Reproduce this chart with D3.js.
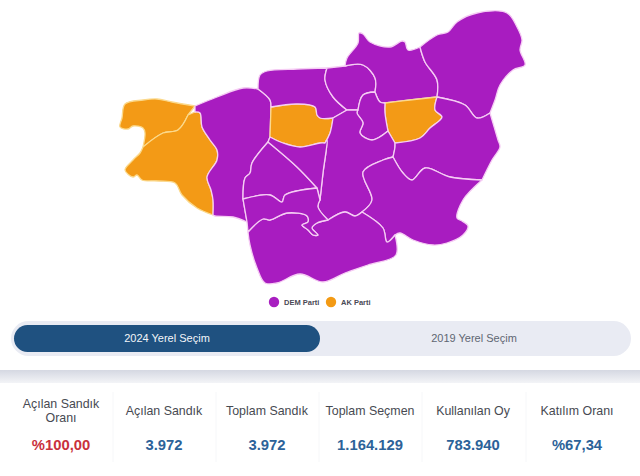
<!DOCTYPE html>
<html>
<head>
<meta charset="utf-8">
<script src="https://cdnjs.cloudflare.com/ajax/libs/d3/7.8.5/d3.min.js"></script>
<style>
body { margin: 0; background: #fff; }
text { font-family: "Liberation Sans", Arial, sans-serif; }
</style>
</head>
<body>
<svg id="chart" width="640" height="476"></svg>
<script>
// district outlines
var nwOrange = [[125,104],[143,100],[157,99],[172,102],[195,106],[188,115],[178,130],[163,133],[143,147],[145,133],[143,128],[133,126],[128,129],[120,127],[122,118]];
var swOrange = [[143,147],[163,133],[178,130],[188,115],[195,112],[200,113],[202,127],[210,140],[217,150],[217,160],[207,177],[211,190],[213,200],[213,215],[197,208],[182,195],[175,183],[158,181],[142,180],[137,175],[133,177],[125,170],[133,160],[140,153]];
var westPurple = [[195,106],[217,97],[243,88],[258,89],[270,100],[271,107],[270,137],[268,142],[252,163],[250,173],[245,178],[243,199],[247,222],[233,217],[215,216],[213,215],[213,200],[211,190],[207,177],[217,160],[217,150],[210,140],[202,127],[200,113],[195,112]];
var midOrange = [[271,107],[297,104],[315,107],[317,115],[320,118],[333,118],[330,133],[325,143],[320,143],[300,147],[283,143],[270,137]];
var northWest = [[258,89],[260,75],[267,71],[297,69],[327,68],[325,80],[333,97],[347,110],[333,118],[320,118],[317,115],[315,107],[297,104],[271,107],[270,100]];
var northMid = [[327,68],[345,66],[363,65],[375,78],[375,92],[363,95],[358,110],[347,110],[333,97],[325,80]];
var northCenter = [[345,66],[347,58],[358,43],[359,33],[363,34],[370,42],[390,47],[402,41],[405,42],[408,50],[420,47],[425,62],[437,80],[437,97],[410,100],[385,103],[380,102],[375,92],[375,78],[363,65]];
var northEast = [[420,47],[437,35],[448,32],[457,22],[477,13],[507,13],[517,27],[522,40],[520,50],[525,65],[513,70],[500,85],[495,100],[490,113],[477,118],[465,105],[437,97],[437,80],[425,62]];
var eastOrange = [[385,103],[410,100],[437,97],[435,110],[442,117],[430,128],[420,138],[395,143],[388,131],[385,113]];
var smallCenter = [[375,92],[380,102],[385,103],[385,113],[388,131],[372,140],[360,133],[363,123],[357,113],[358,110],[363,95]];
var tallCenter = [[347,110],[358,110],[357,113],[363,123],[360,133],[372,140],[388,131],[395,143],[395,147],[393,157],[383,160],[363,172],[372,200],[362,212],[355,216],[345,212],[328,220],[318,207],[320,200],[323,173],[327,140],[325,143],[330,133],[333,118]];
var eastPurple = [[437,97],[465,105],[477,118],[490,113],[498,140],[500,147],[492,160],[482,180],[450,177],[425,168],[412,180],[403,173],[393,157],[395,147],[395,143],[420,138],[430,128],[442,117],[435,110]];
var southEast = [[393,157],[403,173],[412,180],[425,168],[450,177],[482,180],[463,200],[457,218],[462,221],[468,226],[463,235],[447,243],[433,245],[413,240],[400,233],[395,235],[387,242],[383,228],[362,212],[372,200],[363,172],[383,160]];
var south = [[248,232],[263,219],[270,220],[287,213],[307,216],[308,222],[302,225],[308,230],[313,235],[318,235],[312,228],[317,223],[328,220],[345,212],[355,216],[362,212],[383,228],[387,242],[395,235],[396,255],[368,265],[345,273],[323,282],[300,274],[277,283],[265,283],[257,268],[250,245]];
var midWest = [[268,142],[297,167],[317,188],[285,195],[282,202],[270,195],[243,199],[245,178],[250,173],[252,163]];
var midCenter = [[270,137],[283,143],[300,147],[320,143],[325,143],[327,140],[323,173],[320,200],[317,188],[297,167],[268,142]];
var lowWest = [[243,199],[270,195],[282,202],[285,195],[317,188],[320,200],[318,207],[328,220],[317,223],[312,228],[318,235],[313,235],[308,230],[302,225],[308,222],[307,216],[287,213],[270,220],[263,219],[248,232],[247,222]];

var districts = [nwOrange, swOrange, westPurple, midOrange, northWest, northMid, northCenter, northEast, eastOrange, smallCenter, tallCenter, eastPurple, southEast, south, midWest, midCenter, lowWest];
var winners = ["AK","AK","DEM","AK","DEM","DEM","DEM","DEM","AK","DEM","DEM","DEM","DEM","DEM","DEM","DEM","DEM"];

var parties = ["DEM","AK"];
var partyLabels = ["DEM Parti","AK Parti"];
var partyColors = ["#a81fc0","#f39a14"];
var borderColors = ["#f6cdf4","#fbd98c"];

var tabs = ["2024 Yerel Seçim","2019 Yerel Seçim"];
var statLabels = [["Açılan Sandık","Oranı"],["Açılan Sandık"],["Toplam Sandık"],["Toplam Seçmen"],["Kullanılan Oy"],["Katılım Oranı"]];
var statValues = ["%100,00","3.972","3.972","1.164.129","783.940","%67,34"];

var svg = d3.select("#chart");
var fill = d3.scaleOrdinal().domain(parties).range(partyColors);
var border = d3.scaleOrdinal().domain(parties).range(borderColors);
var defs = svg.append("defs");

// the reference is a soft jpeg
defs.append("filter").attr("id", "soft")
    .append("feGaussianBlur").attr("stdDeviation", 0.35);

// which districts use each vertex, so junctions can stay sharp
var owners = {};
districts.forEach(function(ring, r) {
    ring.forEach(function(p) {
        (owners[p] = owners[p] || []).push(r);
    });
});
function isCorner(ring, i) {
    var own = owners[ring[i]];
    if (own.length < 2) return false;
    if (own.length > 2) return true;
    var prev = owners[ring[(i + ring.length - 1) % ring.length]];
    var next = owners[ring[(i + 1) % ring.length]];
    return !own.every(function(o) { return prev.includes(o) && next.includes(o); });
}

// smooth each run of points between two corners on its own
var arc = d3.line().curve(d3.curveCatmullRom.alpha(0.5));
function outline(ring) {
    var start = d3.range(ring.length).find(function(i) { return isCorner(ring, i); }) || 0;
    var d = "", run = [ring[start]];
    for (var k = 1; k <= ring.length; k++) {
        var i = (start + k) % ring.length;
        run.push(ring[i]);
        if (isCorner(ring, i) || k == ring.length) {
            d += d ? arc(run).replace("M", "L") : arc(run);
            run = [ring[i]];
        }
    }
    return d + "Z";
}

svg.append("g")
    .attr("filter", "url(#soft)")
    .selectAll("path")
    .data(districts)
    .enter()
    .append("path")
    .attr("d", outline)
    .attr("fill", function(d, i) { return fill(winners[i]); })
    .attr("stroke", function(d, i) { return border(winners[i]); })
    .attr("stroke-width", 1.3)
    .attr("stroke-linejoin", "round");

// legend
var legendX = d3.scaleOrdinal().domain(parties).range([274, 331]);
var legend = svg.append("g").selectAll("g")
    .data(parties)
    .enter()
    .append("g")
    .attr("transform", function(d) { return "translate(" + legendX(d) + ",302)"; });
legend.append("circle")
    .attr("r", 5.2)
    .attr("fill", function(d) { return fill(d); });
legend.append("text")
    .attr("x", 10)
    .attr("y", 2.6)
    .attr("font-size", 7.5)
    .attr("font-weight", "bold")
    .attr("fill", "#4a4a55")
    .text(function(d, i) { return partyLabels[i]; });

// tab bar
svg.append("rect").attr("x", 11).attr("y", 321).attr("width", 620).attr("height", 35).attr("rx", 17.5).attr("fill", "#e9ebf3");
svg.append("rect").attr("x", 14).attr("y", 325).attr("width", 306).attr("height", 27).attr("rx", 13.5).attr("fill", "#1f5180");
var tabX = d3.scalePoint().domain(tabs).range([167, 474]);
svg.append("g").selectAll("text")
    .data(tabs)
    .enter()
    .append("text")
    .attr("x", function(d) { return tabX(d); })
    .attr("y", 342)
    .attr("text-anchor", "middle")
    .attr("font-size", 11)
    .attr("fill", function(d, i) { return i == 0 ? "#f2f5f9" : "#5f6672"; })
    .text(function(d) { return d; });

// grey band
var grad = defs.append("linearGradient").attr("id", "band").attr("x1", 0).attr("x2", 0).attr("y1", 0).attr("y2", 1);
grad.append("stop").attr("offset", 0).attr("stop-color", "#d5d8e2");
grad.append("stop").attr("offset", 1).attr("stop-color", "#f3f4f7");
svg.append("rect").attr("x", 0).attr("y", 370).attr("width", 640).attr("height", 13).attr("fill", "url(#band)");

// stats
var statX = d3.scaleOrdinal().domain(d3.range(6)).range([61, 164, 267, 370, 473, 577]);
var stat = svg.append("g").selectAll("g")
    .data(statValues)
    .enter()
    .append("g")
    .attr("transform", function(d, i) { return "translate(" + statX(i) + ",0)"; });
stat.append("text")
    .attr("text-anchor", "middle")
    .attr("font-size", 12.4)
    .attr("fill", "#474a52")
    .selectAll("tspan")
    .data(function(d, i) { return statLabels[i]; })
    .enter()
    .append("tspan")
    .attr("x", 0)
    .attr("y", function(d, i, n) { return n.length > 1 ? 408 + i * 14 : 415; })
    .text(function(d) { return d; });
stat.append("text")
    .attr("y", 450)
    .attr("text-anchor", "middle")
    .attr("font-size", 14.8)
    .attr("font-weight", "bold")
    .attr("fill", function(d, i) { return i == 0 ? "#c9313c" : "#2c6299"; })
    .text(function(d) { return d; });
stat.filter(function(d, i) { return i > 0; })
    .append("line")
    .attr("x1", -51).attr("x2", -51)
    .attr("y1", 392).attr("y2", 462)
    .attr("stroke", "#f6f7f9");
</script>
</body>
</html>
